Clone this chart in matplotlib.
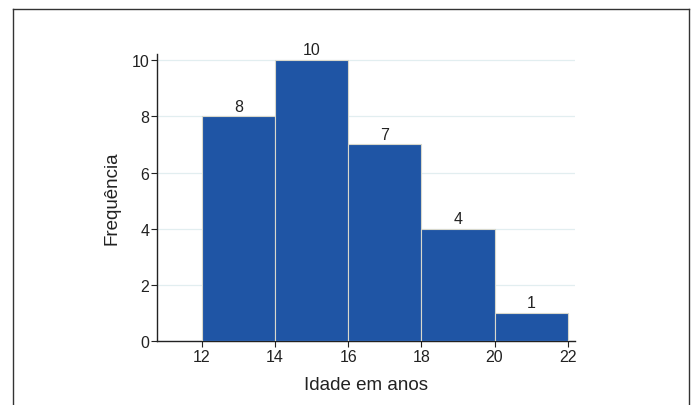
import matplotlib
matplotlib.use("Agg")
import matplotlib.pyplot as plt
from matplotlib.lines import Line2D

# class edges (idade em anos) and frequencies
edges = [12, 14, 16, 18, 20, 22]
freqs = [8, 10, 7, 4, 1]
yticks = [0, 2, 4, 6, 8, 10]

plt.rcParams['font.family'] = ['Liberation Sans', 'DejaVu Sans']

fig = plt.figure(figsize=(6.93, 4.06), dpi=100)
ax = fig.add_axes([0.2266, 0.1576, 0.6031, 0.7069])

lefts = edges[:-1]
widths = [b - a for a, b in zip(edges[:-1], edges[1:])]
ax.bar(lefts, freqs, width=widths, align='edge', color='#1f55a5',
       edgecolor='#d8d8cc', linewidth=0.8, zorder=3)

for x, w, f in zip(lefts, widths, freqs):
    ax.text(x + w / 2, f + 0.1, str(f), ha='center', va='bottom',
            fontsize=11.5, color='#222222')

ax.set_xlim(10.77, 22.2)
ax.set_ylim(0, 10.22)
ax.set_xticks(edges)
ax.set_yticks(yticks)
ax.yaxis.grid(True, color='#e2eef0', linewidth=0.9, zorder=0)
ax.set_axisbelow(True)

for s in ['top', 'right']:
    ax.spines[s].set_visible(False)
for s in ['left', 'bottom']:
    ax.spines[s].set_color('#222222')
    ax.spines[s].set_linewidth(1.0)

ax.tick_params(axis='both', labelsize=11.5, length=4, width=0.8,
               color='#222222', labelcolor='#222222', pad=1.5)
ax.set_xlabel('Idade em anos', fontsize=13.5, labelpad=9, color='#222222')
ax.set_ylabel('Frequência', fontsize=13.5, labelpad=8, color='#222222')

# outer frame (open at the bottom)
x0, x1, yt = 13 / 693, 689 / 693, 1 - 10 / 406
frame_kw = dict(color='#333333', linewidth=1.0, transform=fig.transFigure)
fig.add_artist(Line2D([x0, x1], [yt, yt], **frame_kw))
fig.add_artist(Line2D([x0, x0], [0, yt], **frame_kw))
fig.add_artist(Line2D([x1, x1], [0, yt], **frame_kw))

fig.savefig('out.png', dpi=100)
